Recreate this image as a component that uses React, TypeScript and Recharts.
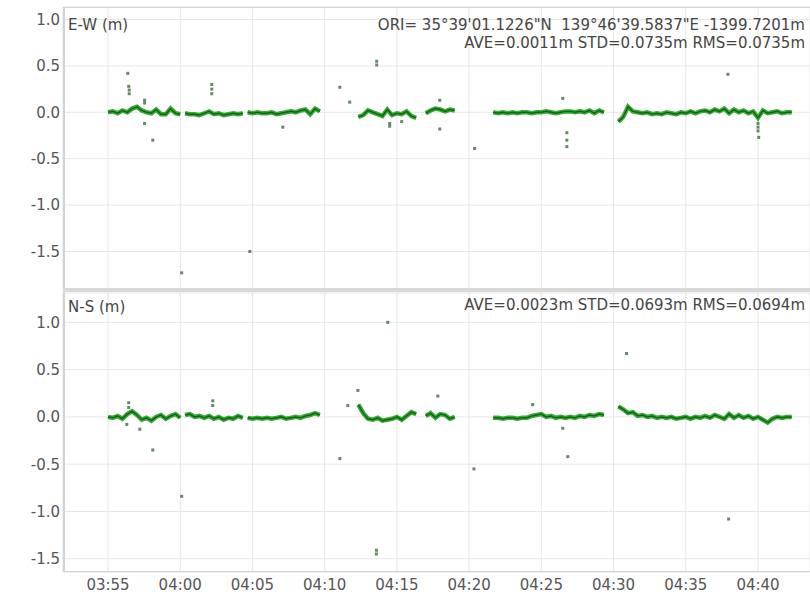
import { LineChart, Line, XAxis, YAxis, CartesianGrid } from 'recharts';

// solution epoch interval, seconds
const EPOCH = 20;

// first epoch of each continuous block, seconds after 03:55:00
const SEG_START = [0, 320, 580, 1040, 1320, 1600, 2120];

// E-W residuals (m), one value per epoch inside each block
const EW_A1 = [0.00, 0.01, -0.01, 0.02, 0.00, 0.04, 0.06, 0.02, 0.00, -0.01, 0.03, -0.02, -0.02, 0.04, -0.01, -0.02];
const EW_A2 = [-0.01, -0.02, -0.02, -0.03, -0.01, 0.01, -0.02, -0.01, -0.03, -0.02, -0.01, -0.02, -0.01];
const EW_A3 = [0.00, -0.01, 0.00, -0.01, -0.01, 0.00, -0.02, -0.01, 0.00, 0.01, 0.00, 0.02, 0.03, -0.02, 0.04, 0.01];
const EW_B = [-0.05, -0.03, 0.02, 0.00, -0.02, -0.04, 0.03, -0.03, -0.01, -0.02, 0.01, -0.04, -0.06];
const EW_C = [-0.01, 0.02, 0.04, 0.03, 0.01, 0.03, 0.02];
const EW_D = [0.00, -0.01, 0.00, -0.01, 0.00, -0.01, 0.00, 0.00, -0.01, 0.00, 0.00, 0.01, 0.00, -0.01, 0.00, 0.01, 0.01, 0.00, 0.01, 0.00, 0.02, -0.01, 0.02, 0.00];
const EW_E = [-0.10, -0.05, 0.06, 0.01, 0.00, -0.01, 0.00, -0.02, -0.01, -0.02, 0.00, -0.01, -0.02, 0.00, -0.01, 0.01, -0.01, 0.01, 0.02, 0.00, 0.03, 0.01, 0.04, -0.01, 0.03, 0.00, 0.02, -0.01, 0.01, -0.06, 0.02, -0.01, 0.00, 0.01, -0.01, 0.00, 0.00];

// N-S residuals (m)
const NS_A1 = [0.00, -0.01, 0.01, -0.02, 0.03, 0.06, 0.02, -0.03, -0.01, -0.04, 0.00, 0.02, -0.02, 0.01, 0.03, -0.01];
const NS_A2 = [0.02, 0.03, 0.00, 0.01, -0.01, 0.01, -0.02, 0.00, -0.03, -0.01, -0.02, 0.01, -0.01];
const NS_A3 = [-0.01, -0.02, -0.01, -0.02, -0.01, -0.02, -0.01, 0.00, -0.02, -0.01, 0.00, -0.01, 0.01, 0.02, 0.04, 0.02];
const NS_B = [0.13, 0.04, -0.02, -0.03, -0.01, -0.04, -0.03, -0.02, 0.00, -0.03, 0.01, 0.05, 0.03];
const NS_C = [0.01, 0.04, -0.01, 0.03, 0.02, -0.02, 0.00];
const NS_D = [-0.01, -0.01, -0.02, -0.01, -0.01, -0.02, -0.01, -0.01, 0.01, 0.02, 0.03, 0.00, 0.01, -0.01, 0.00, -0.01, 0.00, -0.01, 0.01, 0.00, 0.02, 0.01, 0.03, 0.02];
const NS_E = [0.11, 0.08, 0.04, 0.05, 0.01, 0.02, 0.00, 0.01, -0.01, 0.00, -0.01, 0.00, -0.02, -0.01, 0.00, -0.02, 0.00, -0.01, 0.01, -0.01, 0.02, 0.00, -0.02, 0.03, -0.01, 0.02, -0.01, 0.01, -0.02, 0.00, -0.03, -0.06, -0.02, 0.00, -0.01, 0.00, 0.00];

const EW_SEGS = [EW_A1, EW_A2, EW_A3, EW_B, EW_C, EW_D, EW_E];
const NS_SEGS = [NS_A1, NS_A2, NS_A3, NS_B, NS_C, NS_D, NS_E];

// isolated epochs: [seconds after 03:55:00, residual m]
const EW_OUTLIERS: [number, number][] = [
  [82, 0.42], [86, 0.28], [88, 0.24], [88, 0.2], [152, 0.13], [152, 0.1], [152, -0.12], [186, -0.3],
  [306, -1.73], [431, 0.3], [431, 0.25], [431, 0.2], [589, -1.5], [726, -0.16], [963, 0.27], [1004, 0.11],
  [1116, 0.55], [1116, 0.51], [1170, -0.12], [1170, -0.15], [1220, -0.1], [1378, 0.13], [1378, -0.18],
  [1523, -0.39], [1889, 0.15], [1906, -0.22], [1906, -0.3], [1906, -0.37], [2575, 0.41],
  [2700, -0.12], [2700, -0.16], [2700, -0.2], [2703, -0.27],
];
const NS_OUTLIERS: [number, number][] = [
  [86, 0.15], [86, 0.1], [78, -0.08], [132, -0.13], [186, -0.35], [306, -0.84], [435, 0.17], [435, 0.12],
  [963, -0.44], [996, 0.12], [1038, 0.28], [1162, 1.0], [1115, -1.41], [1115, -1.45], [1370, 0.22],
  [1520, -0.55], [1764, 0.13], [1889, -0.12], [1910, -0.42], [2154, 0.67], [2578, -1.08],
];

const TIME_TICKS = [0, 300, 600, 900, 1200, 1500, 1800, 2100, 2400, 2700];
const TIME_LABELS = ['03:55', '04:00', '04:05', '04:10', '04:15', '04:20', '04:25', '04:30', '04:35', '04:40'];
const Y_TICKS = [-1.5, -1.0, -0.5, 0.0, 0.5, 1.0];

const T_DOMAIN = [-187, 2916];
const EW_DOMAIN = [-1.915, 1.135];
const NS_DOMAIN = [-1.64, 1.31];

const FONT = '"DejaVu Sans", Verdana, sans-serif';
const TEXT = '#454545';

const toRows = (start: number, vals: number[]) => vals.map((v, i) => ({ t: start + i * EPOCH, v }));

const OutlierDot = (props: any) => {
  const { cx, cy, index } = props;
  if (cx == null || cy == null) return <g key={index} />;
  return <rect key={index} x={cx - 1.5} y={cy - 1.5} width={3} height={3} fill="#3f6b3f" fillOpacity={0.8} />;
};

function Panel({ segs, outliers, domain, width, height, marginTop, showTime }: any) {
  return (
    <LineChart width={width} height={height} margin={{ top: marginTop, right: 0, bottom: 0, left: 0 }}>
      <CartesianGrid stroke="#e6e6e6" />
      <XAxis
        dataKey="t"
        type="number"
        domain={T_DOMAIN}
        ticks={TIME_TICKS}
        interval={0}
        allowDataOverflow
        hide={!showTime}
        height={24}
        axisLine={false}
        tickLine={false}
        tickSize={0}
        tickMargin={7}
        tick={{ fontSize: 15, fill: '#555', fontFamily: FONT }}
        tickFormatter={(v: number) => TIME_LABELS[TIME_TICKS.indexOf(v)] ?? ''}
      />
      <YAxis
        type="number"
        domain={domain}
        ticks={Y_TICKS}
        interval={0}
        allowDataOverflow
        width={63}
        axisLine={false}
        tickLine={false}
        tickSize={0}
        tickMargin={3}
        tick={{ fontSize: 15, fill: '#555', fontFamily: FONT }}
        tickFormatter={(v: number) => v.toFixed(1)}
      />
      {segs.map((vals: number[], i: number) => (
        <Line
          key={`halo-${i}`}
          data={toRows(SEG_START[i], vals)}
          dataKey="v"
          type="linear"
          stroke="#3aa83a"
          strokeWidth={4.5}
          dot={false}
          activeDot={false}
          isAnimationActive={false}
        />
      ))}
      {segs.map((vals: number[], i: number) => (
        <Line
          key={`core-${i}`}
          data={toRows(SEG_START[i], vals)}
          dataKey="v"
          type="linear"
          stroke="#0b6a0b"
          strokeWidth={1.5}
          dot={false}
          activeDot={false}
          isAnimationActive={false}
        />
      ))}
      <Line
        data={outliers.map(([t, v]: [number, number]) => ({ t, v }))}
        dataKey="v"
        stroke="none"
        dot={<OutlierDot />}
        activeDot={false}
        isAnimationActive={false}
      />
    </LineChart>
  );
}

const label = (extra: any) => ({
  position: 'absolute' as const,
  fontFamily: FONT,
  fontSize: 15,
  color: TEXT,
  whiteSpace: 'pre' as const,
  lineHeight: '18px',
  ...extra,
});

export default function App() {
  return (
    <div style={{ position: 'absolute', left: 0, top: 0, width: 810, height: 596, background: '#fff', overflow: 'hidden' }}>
      <div style={{ position: 'absolute', left: 0, top: 0 }}>
        <Panel segs={EW_SEGS} outliers={EW_OUTLIERS} domain={EW_DOMAIN} width={810} height={290} marginTop={7} showTime={false} />
      </div>
      <div style={{ position: 'absolute', left: 0, top: 290 }}>
        <Panel segs={NS_SEGS} outliers={NS_OUTLIERS} domain={NS_DOMAIN} width={810} height={306} marginTop={3} showTime />
      </div>

      {/* plot frames and the band between the two panels */}
      <div style={{ position: 'absolute', left: 63, top: 7, width: 747, height: 281, borderTop: '1px solid #d2d2d2', borderLeft: '2px solid #d2d2d2', boxSizing: 'border-box', pointerEvents: 'none' }} />
      <div style={{ position: 'absolute', left: 63, top: 288, width: 747, height: 4, background: '#d9d9d9' }} />
      <div style={{ position: 'absolute', left: 63, top: 292, width: 747, height: 280, borderLeft: '2px solid #d2d2d2', borderBottom: '1px solid #d2d2d2', boxSizing: 'border-box', pointerEvents: 'none' }} />

      <div style={label({ left: 68, top: 16 })}>E-W (m)</div>
      <div style={label({ right: 5, top: 16, textAlign: 'right' })}>{'ORI= 35°39\'01.1226"N  139°46\'39.5837"E -1399.7201m'}</div>
      <div style={label({ right: 5, top: 34, textAlign: 'right' })}>AVE=0.0011m STD=0.0735m RMS=0.0735m</div>
      <div style={label({ left: 68, top: 298 })}>N-S (m)</div>
      <div style={label({ right: 5, top: 296, textAlign: 'right' })}>AVE=0.0023m STD=0.0693m RMS=0.0694m</div>
    </div>
  );
}
